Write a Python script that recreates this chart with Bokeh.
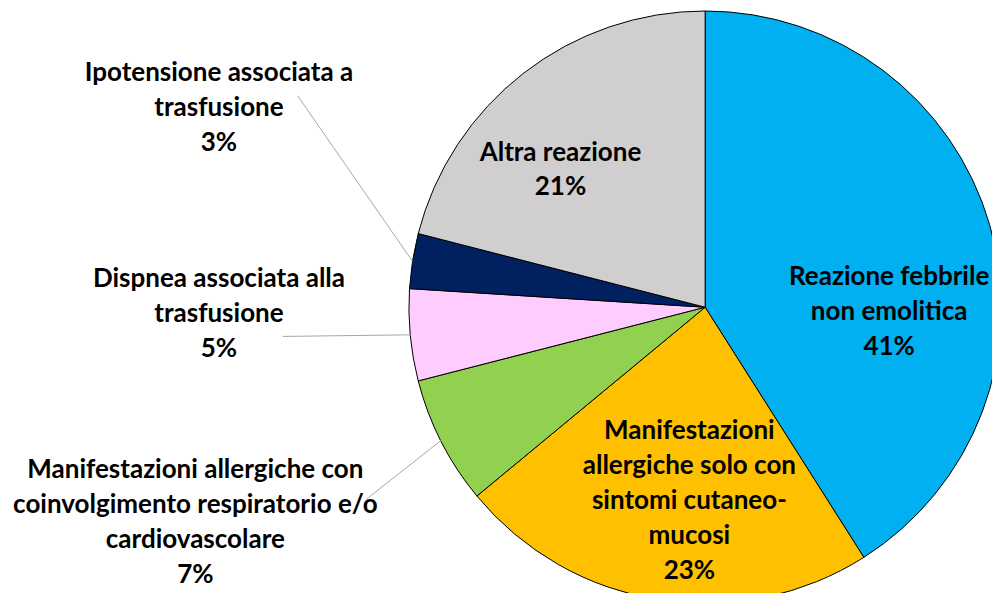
import math
from bokeh.plotting import figure
from bokeh.models import Range1d, ColumnDataSource
from bokeh.core.properties import value
from bokeh.embed import file_html
from bokeh.resources import INLINE

# ---- data ----
categories = [
    "Reazione febbrile\nnon emolitica",
    "Manifestazioni\nallergiche solo con\nsintomi cutaneo-\nmucosi",
    "Manifestazioni allergiche con\ncoinvolgimento respiratorio e/o\ncardiovascolare",
    "Dispnea associata alla\ntrasfusione",
    "Ipotensione associata a\ntrasfusione",
    "Altra reazione",
]
percent = [41, 23, 7, 5, 3, 21]
colors = ["#00B0F0", "#FFC000", "#92D050", "#FFCCFF", "#002060", "#D0CECE"]

# ---- layout (reference pixel coordinates, y measured downward) ----
W, H = 1008, 609
cx, cy, R = 716, 315, 301
label_pos = [(903, 318), (700, 512), (198, 534), (222, 320), (222, 108), (569, 172)]
leader_start = [None, None, (372, 512), (287, 345), (302, 98), None]
FONT = "Lato"
FS = 26
LH = 34

def Y(s):
    return H - s

p = figure(width=992, height=593, output_backend="svg", toolbar_location=None,
           x_range=Range1d(0, W), y_range=Range1d(0, H),
           min_border=0, outline_line_color=None)
p.axis.visible = False
p.grid.visible = False
p.background_fill_color = "white"
p.border_fill_color = "white"

total = float(sum(percent))
starts, ends, mids = [], [], []
cum = 0.0
for v in percent:
    a0 = math.pi / 2 - 2 * math.pi * cum / total
    cum += v
    a1 = math.pi / 2 - 2 * math.pi * cum / total
    starts.append(a0)
    ends.append(a1)
    mids.append((a0 + a1) / 2)

src = ColumnDataSource(dict(start=starts, end=ends, color=colors))
p.wedge(x=cx, y=Y(cy), radius=R, start_angle="start", end_angle="end",
        direction="clock", fill_color="color", line_color="black",
        line_width=1, source=src)

# leader lines
for i, st in enumerate(leader_start):
    if st is None:
        continue
    ex = cx + R * math.cos(mids[i])
    ey = Y(cy) + R * math.sin(mids[i])
    p.line([st[0], ex], [Y(st[1]), ey], line_color="#A6A6A6", line_width=1)

# labels
texts = [f"{c}\n{v}%" for c, v in zip(categories, percent)]
lx = [pos[0] for pos in label_pos]
ly = [Y(pos[1]) for pos in label_pos]
p.text(x=lx, y=ly, text=texts, text_align="center", text_baseline="middle",
       text_font=value(FONT), text_font_style="bold", text_font_size=f"{FS}px",
       text_line_height=LH / (FS * 1.2), text_color="black")

open("out.html", "w").write(file_html(p, INLINE))
